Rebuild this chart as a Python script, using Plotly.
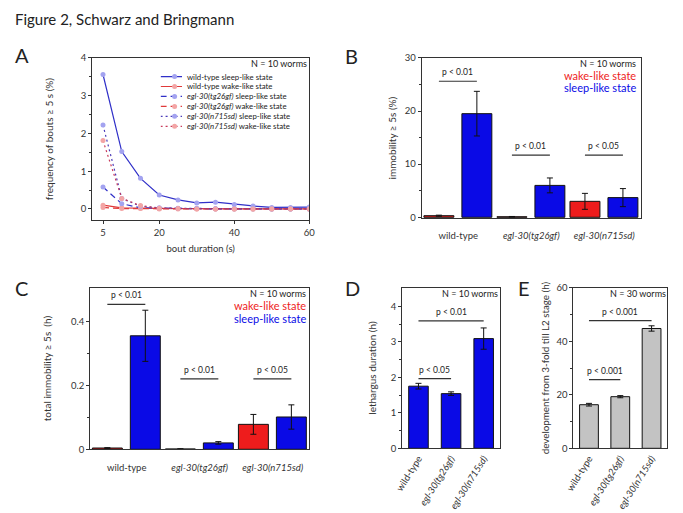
import plotly.graph_objects as go

W, H = 683, 513
FONT = "Lato"
AX = "#333333"
RED = "#ee1c1c"
BLUE = "#0a0ae6"
GREY = "#c3c3c3"

# ---- panel A: frequency of immobility bouts
bout_s = [5, 10, 15, 20, 25, 30, 35, 40, 45, 50, 55, 60]
wt_sleep = [3.56, 1.52, 0.81, 0.37, 0.24, 0.16, 0.18, 0.12, 0.08, 0.04, 0.04, 0.05]
wt_wake = [0.10, 0.03, 0.02, 0.01, 0.01, 0.01, 0.0, 0.0, 0.0, 0.0, 0.0, 0.0]
tg_sleep = [0.58, 0.14, 0.03, 0.02, 0.01, 0.01, 0.0, 0.0, 0.0, 0.0, 0.0, 0.0]
tg_wake = [0.04, 0.01, 0.01, 0.0, 0.0, 0.0, 0.0, 0.0, 0.0, 0.0, 0.0, 0.0]
n715_sleep = [2.22, 0.28, 0.07, 0.03, 0.02, 0.01, 0.01, 0.01, 0.01, 0.0, 0.0, 0.0]
n715_wake = [1.81, 0.28, 0.09, 0.02, 0.01, 0.0, 0.0, 0.0, 0.0, 0.0, 0.0, 0.0]

a_names = ["wild-type sleep-like state", "wild-type wake-like state",
           "<i>egl-30(tg26gf)</i> sleep-like state", "<i>egl-30(tg26gf)</i> wake-like state",
           "<i>egl-30(n715sd)</i> sleep-like state", "<i>egl-30(n715sd)</i> wake-like state"]
a_series = [wt_sleep, wt_wake, tg_sleep, tg_wake, n715_sleep, n715_wake]

# ---- panels B and C: wake vs sleep per genotype
groups = ["wild-type", "<i>egl-30(tg26gf)</i>", "<i>egl-30(n715sd)</i>"]
b_wake = [0.3, 0.1, 3.0]
b_wake_err = [0.1, 0.05, 1.5]
b_sleep = [19.5, 6.0, 3.7]
b_sleep_err = [4.2, 1.4, 1.7]
b_sig = [25.6, 11.7, 11.7]
b_sig_text = ["p < 0.01", "p < 0.01", "p < 0.05"]

c_wake = [0.004, 0.001, 0.078]
c_wake_err = [0.001, 0.0005, 0.031]
c_sleep = [0.355, 0.02, 0.101]
c_sleep_err = [0.08, 0.004, 0.038]
c_sig = [0.453, 0.22, 0.22]
c_sig_text = ["p < 0.01", "p < 0.01", "p < 0.05"]

# ---- panels D and E
d_vals = [1.75, 1.54, 3.09]
d_err = [0.08, 0.05, 0.30]
d_sig = [1.96, 3.59]
d_pairs = [(0, 1), (0, 2)]
d_sig_text = ["p < 0.05", "p < 0.01"]

e_vals = [16.3, 19.3, 44.8]
e_err = [0.5, 0.4, 1.0]
e_sig = [25.7, 47.7]
e_pairs = [(0, 1), (0, 2)]
e_sig_text = ["p < 0.001", "p < 0.001"]


def px_x(a, b):
    return [a / W, b / W]


def px_y(top, bottom):
    return [1 - bottom / H, 1 - top / H]


fig = go.Figure()
shapes = []
annotations = []

# ---------- panel A traces
line_cols = ["#3030c8", "#e03a3a", "#3030c8", "#e03a3a", "#4a3ab8", "#c83a5a"]
mark_cols = ["#a3a3f0", "#f3a5a5", "#a3a3f0", "#f3a5a5", "#a3a3f0", "#f3a5a5"]
dashes = ["solid", "solid", "6px,4px", "6px,4px", "2px,3px", "2px,3px"]
for name, ys, lc, mc, ds in zip(a_names, a_series, line_cols, mark_cols, dashes):
    fig.add_trace(go.Scatter(x=bout_s, y=ys, name=name, mode="lines+markers",
                             line=dict(color=lc, width=1.2, dash=ds),
                             marker=dict(color=mc, size=5),
                             xaxis="x", yaxis="y", showlegend=False))

# hand-made compact legend for panel A (plotly's legend rows are too tall)
for i, (name, lc, mc, ds) in enumerate(zip(a_names, line_cols, mark_cols, dashes)):
    fig.add_trace(go.Scatter(x=[0, 1], y=[i, i], mode="lines", line=dict(color=lc, width=1.2, dash=ds),
                             xaxis="x6", yaxis="y6", showlegend=False, hoverinfo="skip"))
    fig.add_trace(go.Scatter(x=[0.65], y=[i], mode="markers", marker=dict(color=mc, size=5),
                             xaxis="x6", yaxis="y6", showlegend=False, hoverinfo="skip"))
    annotations.append(dict(text=name, x=180 / W, xref="paper", y=i, yref="y6", xanchor="left",
                            yanchor="middle", showarrow=False, font=dict(size=7.8, color="#222")))

# ---------- panels B, C
WAKE_OFF, SLEEP_OFF, BW = -0.47, 0.05, 0.41
for xa, ya, wake, we, sleep, se in [("x2", "y2", b_wake, b_wake_err, b_sleep, b_sleep_err),
                                     ("x3", "y3", c_wake, c_wake_err, c_sleep, c_sleep_err)]:
    fig.add_trace(go.Bar(x=groups, y=wake, width=BW, offset=WAKE_OFF, marker=dict(color=RED, line=dict(color="#111", width=1)),
                         error_y=dict(array=we, color="#111", thickness=1, width=3),
                         xaxis=xa, yaxis=ya, showlegend=False))
    fig.add_trace(go.Bar(x=groups, y=sleep, width=BW, offset=SLEEP_OFF, marker=dict(color=BLUE, line=dict(color="#111", width=1)),
                         error_y=dict(array=se, color="#111", thickness=1, width=3),
                         xaxis=xa, yaxis=ya, showlegend=False))

for xr, yr, sig, txt in [("x2", "y2", b_sig, b_sig_text), ("x3", "y3", c_sig, c_sig_text)]:
    for i, (h, t) in enumerate(zip(sig, txt)):
        x0 = i + WAKE_OFF + BW / 2
        x1 = i + SLEEP_OFF + BW / 2
        shapes.append(dict(type="line", xref=xr, yref=yr, x0=x0, x1=x1, y0=h, y1=h,
                           line=dict(color=AX, width=1.2)))
        annotations.append(dict(text=t, xref=xr, yref=yr, x=(x0 + x1) / 2, y=h, yanchor="bottom",
                                yshift=2, showarrow=False, font=dict(size=8.5, color="#222")))

# ---------- panels D, E
for xa, ya, vals, err, col in [("x4", "y4", d_vals, d_err, BLUE), ("x5", "y5", e_vals, e_err, GREY)]:
    fig.add_trace(go.Bar(x=groups, y=vals, width=0.6, marker=dict(color=col, line=dict(color="#111", width=1)),
                         error_y=dict(array=err, color="#111", thickness=1, width=3),
                         xaxis=xa, yaxis=ya, showlegend=False))

for xr, yr, sig, pairs, txt in [("x4", "y4", d_sig, d_pairs, d_sig_text), ("x5", "y5", e_sig, e_pairs, e_sig_text)]:
    for h, (a, b), t in zip(sig, pairs, txt):
        shapes.append(dict(type="line", xref=xr, yref=yr, x0=a, x1=b, y0=h, y1=h,
                           line=dict(color=AX, width=1.2)))
        annotations.append(dict(text=t, xref=xr, yref=yr, x=(a + b) / 2, y=h, yanchor="bottom",
                                yshift=2, showarrow=False, font=dict(size=8.5, color="#222")))


# ---------- text annotations
def note(text, x, y, size=8, color="#222", anchor="right"):
    x = x - 2 if anchor == "left" else x + 2
    annotations.append(dict(text=text, x=x / W, y=1 - y / H, xref="paper", yref="paper",
                            xanchor=anchor, yanchor="middle", showarrow=False,
                            font=dict(size=size, color=color)))


note("Figure 2, Schwarz and Bringmann", 6, 13, size=15, anchor="left")
for letter, x, y in [("A", 6, 50), ("B", 344, 51), ("C", 6, 288), ("D", 344, 288), ("E", 520, 288)]:
    note(letter, x, y, size=20, anchor="left")

note("N = 10 worms", 305, 59, size=9)
note("N = 10 worms", 641, 59, size=9)
note("wake-like state", 641, 71, size=11, color=RED)
note("sleep-like state", 641, 83, size=11, color=BLUE)
note("N = 10 worms", 304, 294, size=9)
note("wake-like state", 304, 306, size=11, color=RED)
note("sleep-like state", 304, 319, size=11, color=BLUE)
note("N = 10 worms", 500, 294, size=9)
note("N = 30 worms", 672, 294, size=9)


def axis_style(**kw):
    d = dict(showline=True, linecolor=AX, linewidth=1, mirror=True, ticks="outside", ticklen=3,
             tickcolor=AX, tickfont=dict(size=9.5, color="#333"), showgrid=False, zeroline=False,
             title_font=dict(size=10, color="#333"))
    d.update(kw)
    return d


fig.update_layout(
    width=W, height=H, margin=dict(l=0, r=0, t=0, b=0),
    paper_bgcolor="white", plot_bgcolor="white",
    font=dict(family=FONT, color="#222"),
    barmode="overlay",
    showlegend=False,
    xaxis=axis_style(domain=px_x(85, 307), anchor="y", range=[2.1, 60], tickvals=[5, 20, 40, 60],
                     title=dict(text="bout duration (s)", standoff=8, font=dict(size=9.5, color="#333"))),
    yaxis=axis_style(domain=px_y(53, 219), anchor="x", range=[-0.3, 4], tickvals=[0, 1, 2, 3, 4],
                     minor=dict(tickvals=[0.5, 1.5, 2.5, 3.5], ticks="outside", ticklen=2, tickcolor=AX),
                     title=dict(text="frequency of bouts ≥ 5 s (%)", standoff=25)),
    xaxis2=axis_style(domain=px_x(422, 646), anchor="y2", ticks="", ticklabelstandoff=8),
    yaxis2=axis_style(domain=px_y(53, 217), anchor="x2", range=[-0.2, 30], tickvals=[0, 10, 20, 30],
                      minor=dict(tickvals=[5, 15, 25], ticks="outside", ticklen=2, tickcolor=AX),
                      title=dict(text="immobility ≥ 5s (%)", standoff=6)),
    xaxis3=axis_style(domain=px_x(83, 307), anchor="y3", ticks="", ticklabelstandoff=9),
    yaxis3=axis_style(domain=px_y(288, 453), anchor="x3", range=[0, 0.505], tickvals=[0, 0.2, 0.4],
                      minor=dict(tickvals=[0.1, 0.3], ticks="outside", ticklen=2, tickcolor=AX),
                      title=dict(text="total immobility ≥ 5s  (h)", standoff=17)),
    xaxis4=axis_style(domain=px_x(402, 502), anchor="y4", ticks="", tickangle=-58),
    yaxis4=axis_style(domain=px_y(288, 452), anchor="x4", range=[0, 4.52], tickvals=[0, 1, 2, 3, 4],
                      minor=dict(tickvals=[0.5, 1.5, 2.5, 3.5], ticks="outside", ticklen=2, tickcolor=AX),
                      title=dict(text="lethargus duration (h)", standoff=12)),
    xaxis5=axis_style(domain=px_x(577, 673), anchor="y5", ticks="", tickangle=-58),
    yaxis5=axis_style(domain=px_y(288, 452), anchor="x5", range=[0, 60], tickvals=[0, 20, 40, 60],
                      minor=dict(tickvals=[10, 30, 50], ticks="outside", ticklen=2, tickcolor=AX),
                      title=dict(text="development from 3-fold till L2 stage (h)", standoff=4,
                                 font=dict(size=9.8, color="#333"))),
    xaxis6=dict(domain=px_x(155, 177), anchor="y6", range=[0, 1], visible=False),
    yaxis6=dict(domain=px_y(67, 128), anchor="x6", range=[5.5, -0.5], visible=False),
    shapes=shapes,
    annotations=annotations,
)

# the page's default body margin would push the figure 8px off the window
fig.write_html("out.html", config={"displayModeBar": False},
               post_script="document.body.style.margin='0';")
